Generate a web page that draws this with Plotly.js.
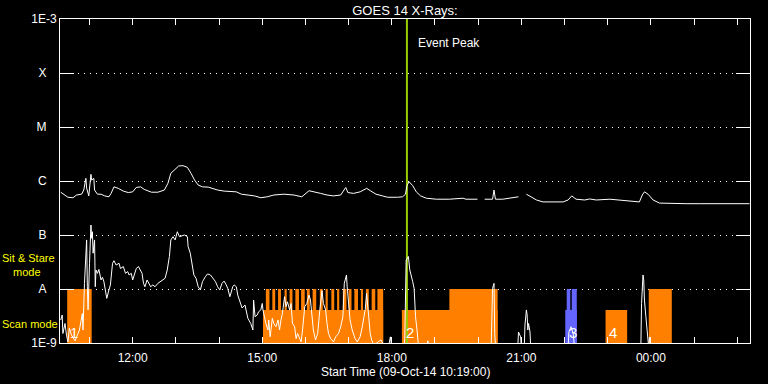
<!DOCTYPE html>
<html>
<head>
<meta charset="utf-8">
<script src="https://cdn.plot.ly/plotly-3.0.1.min.js"></script>
<style>html,body{margin:0;padding:0;background:#000;}#chart{width:768px;height:384px;}</style>
</head>
<body>
<div id="chart"></div>
<script>
const D1 = '2014-10-09 ', D2 = '2014-10-10 ';

// GOES long channel (1-8 A), W/m^2
const longTime = [
 D1+'10:20',D1+'10:25',D1+'10:30',D1+'10:37',D1+'10:42',D1+'10:49',D1+'10:52',D1+'10:55',D1+'10:56',D1+'10:59',
 D1+'11:02',D1+'11:03',D1+'11:06',D1+'11:07',D1+'11:11',D1+'11:16',D1+'11:21',D1+'11:27',D1+'11:30',D1+'11:34',
 D1+'11:40',D1+'11:47',D1+'11:54',D1+'12:00',D1+'12:05',D1+'12:11',D1+'12:16',D1+'12:26',D1+'12:35',D1+'12:44',
 D1+'12:49',D1+'12:53',D1+'12:58',D1+'13:04',D1+'13:10',D1+'13:16',D1+'13:21',D1+'13:26',D1+'13:31',D1+'13:37',
 D1+'13:45',D1+'13:51',D1+'13:58',D1+'14:07',D1+'14:17',D1+'14:24',D1+'14:31',D1+'14:40',D1+'14:49',D1+'14:58',
 D1+'15:07',D1+'15:16',D1+'15:30',D1+'15:44',D1+'15:55',D1+'16:05',D1+'16:14',D1+'16:21',D1+'16:30',D1+'16:39',
 D1+'16:49',D1+'16:53',D1+'16:56',D1+'16:59',D1+'17:07',D1+'17:16',D1+'17:25',D1+'17:31',D1+'17:38',D1+'17:47',
 D1+'17:54',D1+'18:08',D1+'18:15',D1+'18:19',D1+'18:21',D1+'18:24',D1+'18:29',D1+'18:34',D1+'18:40',D1+'18:48',
 D1+'19:02',D1+'19:20',D1+'19:39',D1+'19:43',D1+'19:59',D1+'20:04',D1+'20:09',D1+'20:20',D1+'20:22',D1+'20:24',
 D1+'20:34',D1+'20:44',D1+'20:56',D1+'21:01',D1+'21:07',D1+'21:14',D1+'21:21',D1+'21:30',D1+'21:44',D1+'21:58',
 D1+'22:05',D1+'22:10',D1+'22:16',D1+'22:28',D1+'22:35',D1+'22:44',D1+'23:03',D1+'23:16',D1+'23:35',D1+'23:44',
 D1+'23:48',D1+'23:51',D1+'23:56',D2+'00:03',D2+'00:12',D2+'00:31',D2+'00:49',D2+'01:08',D2+'01:31',D2+'01:54',
 D2+'02:17'
];
const longFlux = [
 6.2e-7,5.5e-7,5.0e-7,4.9e-7,5.5e-7,5.7e-7,6.8e-7,1.12e-6,7.4e-7,5.3e-7,
 1.33e-6,1.04e-6,1.12e-6,6.8e-7,5.7e-7,5.7e-7,5.3e-7,5.1e-7,5.9e-7,7.8e-7,
 7.3e-7,6.5e-7,6.1e-7,6.3e-7,7.6e-7,7.8e-7,7.0e-7,6.2e-7,6.2e-7,6.8e-7,
 9.1e-7,1.39e-6,1.6e-6,1.9e-6,1.92e-6,1.79e-6,1.39e-6,1.04e-6,8.4e-7,7.8e-7,
 7.7e-7,7.3e-7,6.8e-7,6.5e-7,6.3e-7,6.3e-7,5.7e-7,5.5e-7,5.3e-7,4.9e-7,
 5.1e-7,5.5e-7,5.7e-7,5.5e-7,5.1e-7,6.6e-7,6.3e-7,5.9e-7,5.5e-7,5.3e-7,
 5.5e-7,6.5e-7,7.6e-7,6.1e-7,5.9e-7,6.3e-7,7.3e-7,6.5e-7,5.7e-7,5.3e-7,
 5.0e-7,5.0e-7,5.1e-7,5.7e-7,8.2e-7,9.7e-7,8.2e-7,6.3e-7,5.3e-7,4.8e-7,
 4.6e-7,4.6e-7,4.8e-7,4.6e-7,4.6e-7,null,4.6e-7,4.6e-7,6.8e-7,4.6e-7,
 4.6e-7,4.8e-7,5.1e-7,null,5.7e-7,5.1e-7,4.45e-7,4.1e-7,4.1e-7,4.1e-7,
 4.45e-7,5.3e-7,4.6e-7,4.45e-7,4.65e-7,4.45e-7,4.6e-7,4.45e-7,4.26e-7,4.1e-7,
 5.5e-7,6.3e-7,5.7e-7,4.45e-7,3.9e-7,3.8e-7,3.8e-7,3.8e-7,3.8e-7,3.8e-7,
 3.8e-7
];

// GOES short channel (0.5-4 A), W/m^2
const shortTime = [
 D1+'10:20',D1+'10:22',D1+'10:23',D1+'10:26',D1+'10:28',D1+'10:30',D1+'10:32',D1+'10:35',D1+'10:40',D1+'10:46',
 D1+'10:50',D1+'10:51',D1+'10:53',D1+'10:55',D1+'10:56',D1+'10:57',D1+'10:58',D1+'11:00',D1+'11:02',D1+'11:03',
 D1+'11:04',D1+'11:05',D1+'11:07',D1+'11:08',D1+'11:09',D1+'11:11',D1+'11:13',D1+'11:16',D1+'11:18',D1+'11:20',
 D1+'11:22',D1+'11:24',D1+'11:27',D1+'11:29',D1+'11:32',D1+'11:34',D1+'11:37',D1+'11:41',D1+'11:43',D1+'11:47',
 D1+'11:50',D1+'11:53',D1+'11:55',D1+'11:58',D1+'12:00',D1+'12:02',D1+'12:05',D1+'12:08',D1+'12:11',D1+'12:13',
 D1+'12:15',D1+'12:17',D1+'12:20',D1+'12:22',D1+'12:25',D1+'12:28',D1+'12:31',D1+'12:35',D1+'12:39',D1+'12:42',
 D1+'12:45',D1+'12:48',D1+'12:51',D1+'12:53',D1+'12:56',D1+'12:59',D1+'13:02',D1+'13:05',D1+'13:08',D1+'13:12',
 D1+'13:16',D1+'13:17',D1+'13:20',D1+'13:22',D1+'13:25',D1+'13:28',D1+'13:31',D1+'13:34',D1+'13:37',D1+'13:41',
 D1+'13:44',D1+'13:48',D1+'13:51',D1+'13:55',D1+'13:58',D1+'14:01',D1+'14:04',D1+'14:07',D1+'14:10',D1+'14:12',
 D1+'14:15',D1+'14:18',D1+'14:19',D1+'14:21',D1+'14:24',D1+'14:26',D1+'14:30',D1+'14:32',D1+'14:36',D1+'14:38',
 D1+'14:40',D1+'14:44',D1+'14:47',D1+'14:48',D1+'14:50',D1+'14:53',D1+'14:55',D1+'14:58',D1+'15:00',D1+'15:01',
 D1+'15:03',D1+'15:05',D1+'15:08',D1+'15:09',D1+'15:11',D1+'15:14',D1+'15:16',D1+'15:19',D1+'15:22',D1+'15:24',
 D1+'15:26',D1+'15:28',D1+'15:31',D1+'15:33',D1+'15:35',D1+'15:38',D1+'15:40',D1+'15:42',D1+'15:45',D1+'15:47',
 D1+'15:49',D1+'15:52',D1+'15:54',D1+'15:56',D1+'15:59',D1+'16:02',D1+'16:05',D1+'16:07',D1+'16:09',D1+'16:11',
 D1+'16:14',D1+'16:17',D1+'16:20',D1+'16:23',D1+'16:25',D1+'16:28',D1+'16:30',D1+'16:32',D1+'16:35',D1+'16:39',
 D1+'16:42',D1+'16:46',D1+'16:49',D1+'16:52',D1+'16:54',D1+'16:57',D1+'16:58',D1+'17:00',D1+'17:02',D1+'17:05',
 D1+'17:09',D1+'17:12',D1+'17:16',D1+'17:19',D1+'17:23',D1+'17:25',D1+'17:27',D1+'17:30',D1+'17:32',D1+'17:35',
 D1+'17:41',D1+'17:45',D1+'17:49',D1+'17:55',D1+'17:58',D1+'18:00',D1+'18:17',D1+'18:18',D1+'18:20',D1+'18:23',
 D1+'18:25',D1+'18:27',D1+'18:29',D1+'18:31',D1+'18:32',D1+'18:33',D1+'18:35',D1+'18:37',D1+'18:49',D1+'18:50',
 D1+'18:52',D1+'20:18',D1+'20:20',D1+'20:22',D1+'20:23',D1+'20:24',D1+'20:55',D1+'20:56',D1+'20:59',D1+'21:00',
 D1+'21:04',D1+'21:05',D1+'21:07',D1+'21:08',D1+'21:09',D1+'21:10',D1+'21:12',D1+'21:13',D1+'22:05',D1+'22:06',
 D1+'22:09',D1+'22:12',D1+'22:14',D1+'23:46',D1+'23:47',D1+'23:49',D1+'23:50',D1+'23:51',D1+'23:53',D1+'23:55',
 D1+'23:57',D1+'23:58',D2+'00:00',D2+'02:17'
];
const shortFlux = [
 2.67e-9,3.3e-9,1.5e-9,2.3e-9,1.4e-9,1.05e-9,1.87e-9,1.4e-9,1.1e-9,1.74e-9,
 3.5e-9,1.74e-9,1.27e-8,5.7e-8,8.1e-8,1.1e-8,4.1e-9,3.0e-8,1.53e-7,8.7e-8,
 1.15e-7,4.6e-8,8.1e-8,1.1e-8,2.25e-8,1.95e-8,2.3e-8,1.47e-8,1.65e-8,1.37e-8,
 8.9e-9,6.7e-9,9.6e-9,1.19e-8,3.0e-8,3.34e-8,2.78e-8,3.0e-8,2.4e-8,2.6e-8,
 1.95e-8,2.1e-8,1.82e-8,1.95e-8,1.47e-8,1.82e-8,2.4e-8,2.6e-8,2.1e-8,1.95e-8,
 1.27e-8,1.1e-8,1.47e-8,1.27e-8,1.1e-8,1.19e-8,1.1e-8,1.27e-8,1.37e-8,1.47e-8,
 1.58e-8,2.25e-8,4.0e-8,8.1e-8,9.3e-8,8.1e-8,1.15e-7,9.3e-8,9.6e-8,1.0e-7,
 9.3e-8,6.1e-8,4.6e-8,3.0e-8,1.82e-8,1.58e-8,1.1e-8,9.6e-9,1.37e-8,1.69e-8,
 1.9e-8,1.82e-8,1.58e-8,1.37e-8,1.1e-8,9.6e-9,1.27e-8,1.4e-8,1.19e-8,1.03e-8,
 7.2e-9,9.6e-9,1.1e-8,1.19e-8,1.1e-8,7.7e-9,5.4e-9,4.45e-9,5.06e-9,3.8e-9,
 2.87e-9,2.3e-9,1.74e-9,6.25e-9,3.07e-9,3.3e-9,3.8e-9,4.1e-9,5.4e-9,4.1e-9,
 3.07e-9,2.3e-9,1.74e-9,2.67e-9,1.3e-9,2.87e-9,2.3e-9,2.0e-9,2.67e-9,1.74e-9,
 2.67e-9,3.5e-9,7.2e-9,4.7e-9,5.8e-9,4.1e-9,5.4e-9,2.3e-9,2.0e-9,1.2e-9,
 1.5e-9,1.2e-9,1.05e-9,1.74e-9,4.7e-9,5.4e-9,7.7e-9,6.25e-9,3.07e-9,1.74e-9,
 1.14e-9,1.5e-9,4.1e-9,9.3e-9,5.4e-9,4.1e-9,2.3e-9,1.5e-9,1.2e-9,1.05e-9,
 1.3e-9,1.5e-9,2.0e-9,3.07e-9,1.27e-8,1.82e-8,1.1e-8,4.7e-9,2.67e-9,1.74e-9,
 1.2e-9,1.05e-9,1.3e-9,2.0e-9,4.1e-9,8.3e-9,3.5e-9,1.5e-9,1.14e-9,9e-10,
 1.05e-9,1.14e-9,9e-10,8e-10,1.3e-9,8e-10,8e-10,1.2e-9,3.44e-8,4.0e-8,
 2.25e-8,1.82e-8,1.37e-8,1.03e-8,4.45e-9,3.07e-9,1.74e-9,9e-10,8e-10,1.1e-9,
 8e-10,8e-10,1.03e-8,1.27e-8,1.5e-9,9e-10,8e-10,1.6e-9,1.3e-9,8e-10,
 8e-10,2.15e-9,4.1e-9,3.3e-9,1.74e-9,2.3e-9,1.6e-9,8e-10,8e-10,1.6e-9,
 2.0e-9,1.5e-9,8e-10,8e-10,5.4e-9,1.82e-8,1.47e-8,6.25e-9,3.07e-9,1.3e-9,
 8e-10,1.27e-9,8e-10,8e-10
];

// Observing-mode bars
const MODE_BOTTOM = 5e-10;      // below axis floor
const STARE_TOP = 1e-8;         // "Sit & Stare mode" height
const SCAN_TOP = 4.1e-9;        // "Scan mode" height
const stareStart = [D1+'10:29',D1+'15:05',D1+'15:14',D1+'15:22',D1+'15:31',D1+'15:38',D1+'15:46',D1+'15:54',D1+'16:02',D1+'16:10',
 D1+'16:20',D1+'16:28',D1+'16:36',D1+'16:44',D1+'16:52',D1+'17:00',D1+'17:08',D1+'17:17',D1+'17:24',D1+'17:32',
 D1+'17:40',D1+'19:20',D1+'23:57'];
const stareEnd = [D1+'11:03',D1+'15:10',D1+'15:18',D1+'15:26',D1+'15:34',D1+'15:42',D1+'15:51',D1+'15:59',D1+'16:06',D1+'16:15',
 D1+'16:24',D1+'16:31',D1+'16:40',D1+'16:47',D1+'16:57',D1+'17:04',D1+'17:13',D1+'17:20',D1+'17:28',D1+'17:37',
 D1+'17:48',D1+'20:27',D2+'00:29'];
const scanStart = [D1+'15:01',D1+'18:14',D1+'22:57'];
const scanEnd   = [D1+'17:48',D1+'20:27',D1+'23:27'];
const blueStareStart = [D1+'22:03',D1+'22:10'];
const blueStareEnd   = [D1+'22:08',D1+'22:17'];
const blueScanStart = [D1+'22:01'];
const blueScanEnd   = [D1+'22:17'];

const eventLabels = ['1','2','3','4'];
const eventLabelTime = [D1+'10:30',D1+'18:17',D1+'22:03',D1+'22:59'];
const eventPeak = D1+'18:21';

const levelVals = [1e-9,1e-8,1e-7,1e-6,1e-5,1e-4,1e-3];
const NB = '\u00a0\u00a0\u00a0';
const levelText = ['1E-9','A'+NB,'B'+NB,'C'+NB,'M'+NB,'X'+NB,'1E-3'];

function rects(starts, ends, top) {
  const xs = [], ys = [];
  for (let i = 0; i < starts.length; i++) {
    xs.push(starts[i], starts[i], ends[i], ends[i], starts[i], null);
    ys.push(MODE_BOTTOM, top, top, MODE_BOTTOM, MODE_BOTTOM, null);
  }
  return {xs, ys};
}
function rectTrace(r, color) {
  return {x: r.xs, y: r.ys, type: 'scatter', mode: 'lines', fill: 'toself',
          fillcolor: color, line: {width: 0, color: color}, hoverinfo: 'skip'};
}

const ORANGE = '#ff8000', BLUE = '#6464ff';
const traces = [
  rectTrace(rects(scanStart, scanEnd, SCAN_TOP), ORANGE),
  rectTrace(rects(stareStart, stareEnd, STARE_TOP), ORANGE),
  rectTrace(rects(blueScanStart, blueScanEnd, SCAN_TOP), BLUE),
  rectTrace(rects(blueStareStart, blueStareEnd, STARE_TOP), BLUE),
  {x: [eventPeak, eventPeak], y: [5e-10, 2e-3], type: 'scatter', mode: 'lines',
   line: {color: '#99cc00', width: 2}, hoverinfo: 'skip'},
  {x: longTime, y: longFlux, type: 'scatter', mode: 'lines', connectgaps: false,
   line: {color: 'white', width: 1}, hoverinfo: 'skip'},
  {x: shortTime, y: shortFlux, type: 'scatter', mode: 'lines',
   line: {color: 'white', width: 1}, hoverinfo: 'skip'}
];

const annotations = [
  {text: 'Sit & Stare', xref: 'paper', yref: 'paper', x: -0.0856, y: 0.262, xanchor: 'left', yanchor: 'middle',
   showarrow: false, borderpad: 0, font: {color: '#ffff00', size: 11}},
  {text: 'mode', xref: 'paper', yref: 'paper', x: -0.0697, y: 0.219, xanchor: 'left', yanchor: 'middle',
   showarrow: false, borderpad: 0, font: {color: '#ffff00', size: 11}},
  {text: 'Scan mode', xref: 'paper', yref: 'paper', x: -0.0856, y: 0.0571, xanchor: 'left', yanchor: 'middle',
   showarrow: false, borderpad: 0, font: {color: '#ffff00', size: 11}},
  {text: 'Event Peak', xref: 'x', yref: 'paper', x: eventPeak, xshift: 9, y: 0.926, xanchor: 'left', yanchor: 'middle',
   showarrow: false, font: {color: 'white', size: 12}},
  {text: 'Start Time (09-Oct-14 10:19:00)', xref: 'paper', yref: 'paper', x: 0.5, y: -0.091,
   xanchor: 'center', yanchor: 'middle', showarrow: false, font: {color: 'white', size: 12}}
];
for (let i = 0; i < eventLabels.length; i++) {
  annotations.push({text: eventLabels[i], xref: 'x', yref: 'y', x: eventLabelTime[i], y: -8.81,
    xanchor: 'left', yanchor: 'middle', showarrow: false, font: {color: 'white', size: 15}});
}

const layout = {
  width: 768, height: 384,
  paper_bgcolor: '#000', plot_bgcolor: '#000',
  margin: {l: 60, r: 18, t: 19, b: 41},
  font: {family: '"Liberation Sans", Arial, sans-serif', size: 12, color: 'white'},
  showlegend: false,
  title: {text: 'GOES 14 X-Rays:', font: {size: 13, color: 'white'},
          xref: 'paper', x: 0.5, xanchor: 'center', yref: 'container', y: 1 - 10/384, yanchor: 'middle'},
  xaxis: {
    type: 'date', range: [D1+'10:19', D2+'02:17:40'],
    tickmode: 'linear', tick0: D1+'12:00', dtick: 3*3600000, tickformat: '%H:%M',
    ticks: 'inside', ticklen: 6, tickcolor: 'white', tickwidth: 1, ticklabelstandoff: 4,
    minor: {ticks: 'inside', ticklen: 6, tickcolor: 'white', tickwidth: 1, dtick: 3600000, tick0: D1+'12:00', showgrid: false},
    showline: true, linecolor: 'white', linewidth: 1, mirror: 'ticks',
    showgrid: false, zeroline: false, tickfont: {size: 12, color: 'white'}
  },
  yaxis: {
    type: 'log', range: [-9, -3],
    tickmode: 'array', tickvals: levelVals, ticktext: levelText,
    ticks: 'inside', ticklen: 14, tickcolor: 'white', tickwidth: 1,
    showline: true, linecolor: 'white', linewidth: 1, mirror: 'ticks',
    showgrid: true, gridcolor: 'white', gridwidth: 1, griddash: '1px,5px',
    zeroline: false, tickfont: {size: 12, color: 'white'}
  },
  annotations: annotations
};

Plotly.newPlot('chart', traces, layout, {staticPlot: true, displayModeBar: false});
</script>
</body>
</html>
